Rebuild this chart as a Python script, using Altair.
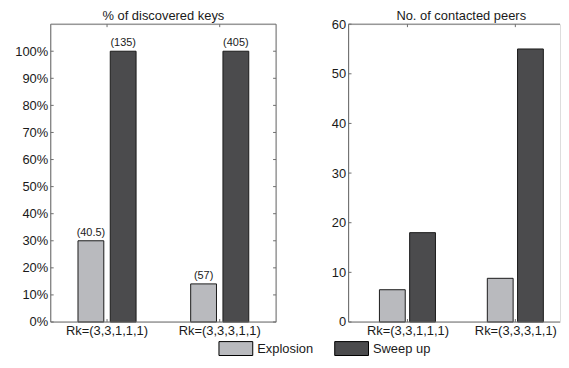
import json
import altair as alt
import pandas as pd

configs = ["Rk=(3,3,1,1,1)", "Rk=(3,3,3,1,1)"]
methods = ["Explosion", "Sweep up"]
colors = ["#b9babe", "#4b4b4d"]

keys_pct_explosion = [0.30, 0.1407]
keys_pct_sweep = [1.00, 1.00]
keys_label_explosion = ["(40.5)", "(57)"]
keys_label_sweep = ["(135)", "(405)"]

peers_explosion = [6.5, 8.8]
peers_sweep = [18, 55]

pct_ticks = [0, 0.1, 0.2, 0.3, 0.4, 0.5, 0.6, 0.7, 0.8, 0.9, 1.0]
peer_ticks = [0, 10, 20, 30, 40, 50, 60]

FONT = "Liberation Sans"
FRAME = "#6e6e6e"
TXT = "#1a1a1a"
H = 300

left_rows = []
right_rows = []
for i, c in enumerate(configs):
    left_rows.append(dict(config=c, method=methods[0], value=keys_pct_explosion[i], label=keys_label_explosion[i]))
    left_rows.append(dict(config=c, method=methods[1], value=keys_pct_sweep[i], label=keys_label_sweep[i]))
    right_rows.append(dict(config=c, method=methods[0], value=peers_explosion[i]))
    right_rows.append(dict(config=c, method=methods[1], value=peers_sweep[i]))
left_df = pd.DataFrame(left_rows)
right_df = pd.DataFrame(right_rows)

legend = alt.Legend(
    title=None, orient="none", legendX=179, legendY=319, direction="horizontal", padding=0,
    symbolType="M-2.43,-1H2.43V1H-2.43Z", symbolSize=196,
    symbolStrokeColor="black", symbolStrokeWidth=1, symbolOpacity=1,
    labelFontSize=13, labelFont=FONT, labelColor=TXT, labelOffset=14, columnPadding=18.6,
)
color_enc = alt.Color("method:N", scale=alt.Scale(domain=methods, range=colors), legend=legend)

one = pd.DataFrame({"k": [0]})


def frame_rule(**enc):
    return alt.Chart(one).mark_rule(color=FRAME, strokeWidth=1).encode(**enc)


def yaxis_for(ticks, fmt, minext):
    return alt.Axis(title=None, values=ticks, format=fmt, ticks=False, domain=False, grid=False,
                    labelPadding=3, minExtent=minext, labelFontSize=13, labelFont=FONT, labelColor=TXT)


def title_for(text, dx, offset):
    return alt.TitleParams(text=text, fontSize=13, font=FONT, fontWeight="normal", color=TXT,
                           frame="group", anchor="middle", offset=offset, dx=dx)


# ---------- left panel: % of discovered keys ----------
LW = 227
lx = alt.Scale(domain=configs, paddingInner=0, paddingOuter=0)
ly = alt.Scale(domain=[0, 1.1], nice=False, zero=True)
lxaxis = alt.Axis(title=None, ticks=False, domain=False, labelAngle=0, labelPadding=3,
                  labelFontSize=13, labelFont=FONT, labelColor=TXT)
lyaxis = yaxis_for(pct_ticks, ".0%", 42)
lbase = alt.Chart(left_df).encode(
    x=alt.X("config:N", scale=lx, sort=configs, axis=lxaxis),
    xOffset=alt.XOffset("method:N", scale=alt.Scale(domain=methods, paddingInner=0.2, paddingOuter=0.846)),
    y=alt.Y("value:Q", scale=ly, axis=lyaxis),
)
ltdf = pd.DataFrame({"value": pct_ticks})
lcdf = pd.DataFrame({"config": configs})
left = alt.layer(
    lbase.mark_bar(stroke="#1a1a1a", strokeWidth=1, opacity=1).encode(color=color_enc),
    lbase.mark_text(dy=-3, baseline="bottom", fontSize=11, font=FONT, color=TXT).encode(text="label:N"),
    alt.Chart(ltdf).mark_rule(color=FRAME).encode(y=alt.Y("value:Q", scale=ly, axis=lyaxis),
                                                  x=alt.value(0), x2=alt.value(3)),
    alt.Chart(ltdf).mark_rule(color=FRAME).encode(y=alt.Y("value:Q", scale=ly, axis=lyaxis),
                                                  x=alt.value(LW - 3), x2=alt.value(LW)),
    alt.Chart(lcdf).mark_rule(color=FRAME).encode(x=alt.X("config:N", scale=lx, sort=configs, axis=lxaxis),
                                                  y=alt.value(0), y2=alt.value(3)),
    alt.Chart(lcdf).mark_rule(color=FRAME).encode(x=alt.X("config:N", scale=lx, sort=configs, axis=lxaxis),
                                                  y=alt.value(H - 3), y2=alt.value(H)),
    frame_rule(x=alt.value(0), x2=alt.value(LW), y=alt.value(0)),
    frame_rule(x=alt.value(0), x2=alt.value(LW), y=alt.value(H)),
    frame_rule(x=alt.value(0), y=alt.value(0), y2=alt.value(H)),
    frame_rule(x=alt.value(LW), y=alt.value(0), y2=alt.value(H)),
).properties(width=LW, height=H, title=title_for("% of discovered keys", 0, 1))

# ---------- right panel: No. of contacted peers (cut off at the right edge) ----------
RW = 213
rx = alt.Scale(domain=[0.5, 2.368], nice=False, zero=False)
ry = alt.Scale(domain=[0, 60], nice=False, zero=True)
label_expr = f"datum.value == 1 ? '{configs[0]}' : '{configs[1]}'"
rxaxis = alt.Axis(title=None, values=[1, 2], labelExpr=label_expr, ticks=False, domain=False, grid=False,
                  labelAngle=0, labelPadding=3, labelFlush=False, labelOverlap=False,
                  labelFontSize=13, labelFont=FONT, labelColor=TXT)
ryaxis = yaxis_for(peer_ticks, "d", 20)
rbase = alt.Chart(right_df).transform_calculate(
    pos=f"indexof({json.dumps(configs)}, datum.config) + 1 + (datum.method == '{methods[0]}' ? -0.14 : 0.14)"
)
rtdf = pd.DataFrame({"value": peer_ticks})
rcdf = pd.DataFrame({"pos": [1, 2]})
right = alt.layer(
    rbase.mark_bar(width=26, stroke="#1a1a1a", strokeWidth=1, opacity=1).encode(
        x=alt.X("pos:Q", scale=rx, axis=rxaxis),
        y=alt.Y("value:Q", scale=ry, axis=ryaxis),
        color=color_enc),
    alt.Chart(rtdf).mark_rule(color=FRAME).encode(y=alt.Y("value:Q", scale=ry, axis=ryaxis),
                                                  x=alt.value(0), x2=alt.value(3)),
    alt.Chart(rcdf).mark_rule(color=FRAME).encode(x=alt.X("pos:Q", scale=rx, axis=rxaxis),
                                                  y=alt.value(0), y2=alt.value(3)),
    alt.Chart(rcdf).mark_rule(color=FRAME).encode(x=alt.X("pos:Q", scale=rx, axis=rxaxis),
                                                  y=alt.value(H - 3), y2=alt.value(H)),
    frame_rule(x=alt.value(0), x2=alt.value(RW), y=alt.value(0)),
    frame_rule(x=alt.value(0), x2=alt.value(RW), y=alt.value(H)),
    frame_rule(x=alt.value(0), y=alt.value(0), y2=alt.value(H)),
).properties(width=RW, height=H, title=title_for("No. of contacted peers", 7, -5))

chart = alt.hconcat(left, right, spacing=51, padding=0).configure_view(
    stroke="transparent", strokeWidth=0
).configure(background="white", padding=0)

chart.save("out.html", embed_options={"renderer": "svg", "actions": False})
